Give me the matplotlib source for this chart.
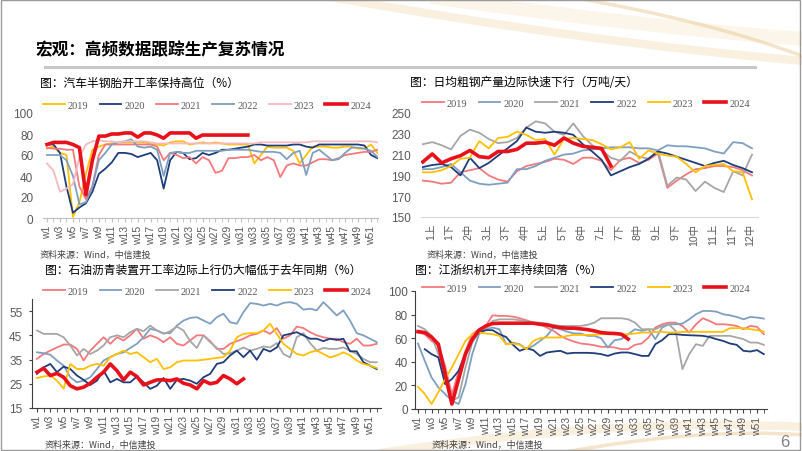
import matplotlib
matplotlib.use('Agg')
import matplotlib.pyplot as plt
import matplotlib.transforms as mtransforms
from matplotlib.path import Path
from matplotlib.patches import PathPatch, Rectangle
from matplotlib.lines import Line2D
import numpy as np

plt.rcParams['font.family'] = ['Noto Sans CJK SC', 'DejaVu Sans']

W, H = 802, 452

# ---------------- data ----------------
years = ['2019', '2020', '2021', '2022', '2023', '2024']
week_labels = ['w%d' % i for i in range(1, 53, 2)]

# chart 1: 汽车半钢胎开工率 (%)
tyre_2019 = [66, 68, 62, 60, 1, 15, 42, 65, 68, 70, 71, 72, 72, 72, 72, 72, 71, 70, 69, 72,
             73, 73, 70, 71, 72, 71, 72, 71, 70, 70, 70, 70, 52, 60, 68, 67, 67, 67, 64, 52,
             60, 68, 68, 68, 67, 67, 68, 68, 66, 66, 70, 62]
tyre_2020 = [70, 70, 62, 30, 5, 10, 14, 25, 42, 47, 53, 62, 62, 61, 58, 60, 62, 55, 28, 55,
             63, 62, 56, 57, 62, 60, 62, 65, 65, 66, 67, 68, 70, 70, 69, 69, 69, 69, 70, 70,
             68, 67, 70, 70, 70, 70, 70, 70, 70, 69, 60, 57]
tyre_2021 = [67, 66, 66, 65, 65, 30, 18, 30, 60, 70, 70, 70, 70, 70, 70, 70, 70, 68, 55, 62,
             60, 57, 58, 52, 58, 55, 43, 45, 57, 57, 58, 58, 60, 55, 58, 55, 39, 50, 52, 50,
             50, 53, 56, 56, 55, 57, 60, 61, 62, 63, 63, 65]
tyre_2022 = [60, 60, 60, 55, 40, 13, 15, 30, 55, 62, 70, 72, 73, 75, 68, 67, 68, 65, 40, 62,
             63, 62, 62, 64, 64, 64, 64, 64, 65, 65, 65, 65, 64, 63, 63, 63, 62, 56, 62, 64,
             41, 62, 65, 60, 55, 56, 62, 67, 67, 66, 64, 58]
tyre_2023 = [52, 45, 25, 28, 32, 58, 70, 73, 74, 73, 73, 72, 73, 73, 73, 73, 72, 71, 71, 71,
             71, 71, 71, 71, 71, 71, 71, 71, 71, 71, 71, 71, 71, 72, 72, 72, 72, 72, 72, 72,
             72, 73, 73, 73, 73, 73, 73, 73, 73, 73, 73, 72]
tyre_2024 = [70, 72, 72, 72, 70, 67, 22, 55, 78, 78, 80, 80, 81, 81, 77, 81, 81, 79, 76, 81,
             81, 81, 81, 76, 79, 79, 79, 79, 79, 79, 79, 79]

# chart 2: 日均粗钢产量 (万吨/天), ten-day periods
steel_labels = ['1上', '1下', '2中', '3上', '3下', '4中', '5上', '5下', '6中',
                '7上', '7下', '8中', '9上', '9下', '10中', '11上', '11下', '12中']
steel_2019 = [185, 184, 182, 183, 193, 195, 197, 190, 186, 184, 194, 199, 201, 203, 206, 205,
              201, 207, 207, 204, 195, 205, 207, 202, 205, 211, 178, 185, 191, 196, 197, 199,
              199, 198, 195, 190]
steel_2020 = [196, 196, 198, 201, 193, 185, 182, 181, 182, 183, 196, 196, 199, 204, 207, 210,
              211, 214, 215, 216, 217, 217, 217, 216, 216, 214, 219, 218, 218, 217, 216, 213,
              211, 222, 221, 216]
steel_2021 = [220, 222, 219, 215, 228, 234, 231, 225, 221, 222, 226, 236, 242, 240, 232, 229,
              240, 228, 219, 214, 207, 204, 213, 208, 206, 214, 180, 188, 186, 175, 184, 178,
              174, 194, 190, 210]
steel_2022 = [198, 200, 201, 198, 190, 207, 197, 202, 209, 216, 223, 236, 232, 231, 232, 231,
              229, 220, 213, 205, 190, 194, 198, 201, 206, 213, 211, 208, 205, 202, 199, 202,
              204, 200, 197, 193]
steel_2023 = [193, 193, 195, 199, 206, 207, 223, 216, 226, 227, 232, 229, 224, 225, 210, 225,
              226, 225, 224, 220, 215, 217, 222, 206, 214, 211, 209, 208, 201, 193, 199, 200,
              201, 194, 193, 167]
steel_2024 = [203, 210.6, 202, 206, 209, 214, 208, 207, 213, 213, 215, 221, 221, 222, 219, 226,
              221, 218, 217, 216, 199]

# chart 3: 石油沥青装置开工率 (%)
asph_2019 = [35.3, 37.3, 38.7, 40, 41.2, 41.2, 39.4, 34.6, 38.7, 41.5, 44.2, 41.5, 44.2, 42.9,
             45, 47.7, 43.6, 45, 44, 42.2, 44.2, 41.5, 40.8, 42.9, 45, 45, 42.6, 39.4, 39.4,
             41.5, 42.6, 43.6, 45, 45.6, 47, 45.6, 48, 43.6, 45, 48.6, 48, 46.3, 45, 44.2,
             43.6, 43.6, 42.2, 41.5, 43.6, 40.8, 40.8, 41.5]
asph_2020 = [38, 37.6, 37, 34.6, 32.5, 27.7, 25.6, 26.3, 27.7, 31.1, 34.6, 36, 37.3, 38, 39.8,
             41.5, 44.2, 47.7, 47, 45.9, 45.9, 49, 51.1, 52.2, 52.5, 51.1, 49.8, 52.5, 53.9,
             50.4, 49.8, 54.6, 58.3, 58, 57.3, 58, 57.3, 58.4, 58.7, 58, 55.6, 56, 55.3, 58.7,
             56, 53.2, 55.3, 51.1, 45.9, 45, 43.6, 42.2]
asph_2021 = [47, 45.6, 45.6, 45.6, 44.2, 40.8, 36.7, 39.4, 37.3, 38.7, 40.8, 44.2, 45, 44.2,
             46.3, 47.7, 46.7, 49, 47, 45.6, 46.7, 48.6, 47, 42.6, 39.8, 45, 42.2, 39.8, 37.3,
             37.6, 38.7, 40, 38.7, 39.4, 40.4, 40, 41.8, 37.3, 35.9, 44.2, 45.9, 41.8, 38.7,
             39.8, 39.4, 39.4, 40, 38.7, 37.3, 35.3, 33.9, 33.9]
asph_2022 = [29.1, 31.8, 33.2, 29.8, 32.1, 31.1, 28.4, 26.6, 24.5, 26.3, 30.4, 25.6, 27, 25.6,
             25.6, 28, 25.6, 22.9, 24.2, 27.4, 22.9, 26.6, 27, 26.3, 25, 27.7, 29.1, 33.2, 33.9,
             36.7, 38.7, 36, 38.7, 34.9, 39.4, 38.3, 40, 45, 45.6, 46.3, 45, 43.6, 43.6, 42.6,
             43.6, 43.1, 43.6, 38.4, 38.4, 33.9, 32.5, 31.1]
asph_2023 = [27.4, 28, 28.4, 26.3, 23, 33.2, 31.1, 31.1, 32.5, 33.2, 32.5, 36, 37.3, 38.7, 37.3,
             38, 36, 33.9, 35.3, 31.1, 31.8, 33.9, 34.6, 34.6, 34.6, 34.9, 35.3, 35.7, 36, 38.7,
             44.2, 45.6, 45.9, 45.9, 47, 49.8, 45.6, 41.5, 39.4, 37.3, 36.7, 38, 38.7, 37.3,
             35.9, 36.7, 38, 36.7, 34.6, 33.2, 32.5, 31.5]
asph_2024 = [29.8, 31.4, 28.4, 29.3, 27.7, 24.2, 22.9, 23.6, 25.2, 27.7, 29.8, 33.2, 30.4, 26.6,
             29.8, 28, 24.5, 25.6, 26.6, 26.6, 26.3, 27, 25.2, 24.5, 22.9, 26.3, 25, 25.6, 28.4,
             27, 25, 27]

# chart 4: 江浙织机开工率 (%)
loom_2019 = [64.8, 63.4, 57.7, 53.5, 36.6, 12, 32.4, 49.3, 63.4, 67.6, 70.4, 79.4, 78.9, 78.9,
             78.3, 76.9, 75.2, 73.2, 71.8, 69, 66.2, 62, 59.2, 57.2, 55.5, 54.9, 54, 52.7, 52.7,
             52.1, 50.7, 50.7, 54.4, 55.5, 60.6, 69, 71.8, 73.2, 73.2, 70.4, 64.8, 71.8, 76.9,
             74.6, 71.8, 71.8, 71.3, 70.4, 67.6, 70.4, 69.6, 63.4]
loom_2020 = [55.5, 40.8, 26.8, 18.3, 12.7, 7, 4.2, 21, 46.5, 63.4, 67.6, 69, 67.6, 54.9, 56.3,
             54.9, 50.7, 53.5, 57.7, 62, 69, 67.6, 65.6, 64, 64, 62, 62, 60, 52.1, 58.3, 59.2,
             63.4, 67.6, 66.2, 67.6, 59.2, 69, 71.8, 71.8, 72.4, 76, 80.3, 83.1, 83.1, 82.5,
             80.3, 79.4, 78, 76, 78, 77.5, 76.6]
loom_2021 = [70.4, 67.6, 62, 46.5, 23.9, 7, 9.9, 35.2, 56.3, 64.8, 67.6, 74.6, 76, 76, 76, 75.2,
             74.6, 73.2, 73.2, 72.4, 71.3, 70.4, 70.4, 70.4, 70.4, 71.3, 73.2, 76.9, 76.9, 76.9,
             76.9, 76, 73.2, 67.6, 67.6, 67.6, 70.4, 71.8, 66.2, 33.8, 46.5, 54.9, 53.5, 62, 62,
             62, 62, 60.6, 59.2, 56.3, 56.3, 54.4]
loom_2022 = [np.nan, 50.7, 46.5, 43.7, 21.1, 25.4, 32.4, 46.5, 59.2, 64.8, 66.8, 66.8, 63.4, 61,
             54.4, 49.3, 51.5, 49.9, 45, 47.9, 48.7, 49.3, 47, 47.6, 47.6, 47.6, 47.3, 46.5, 45,
             47, 47.9, 47.9, 46.5, 45, 45, 54.9, 58.3, 63.4, 63.4, 62.8, 62.5, 62.3, 62, 61,
             59.2, 57.7, 55.5, 54.4, 49.3, 48.7, 49.9, 46.5]
loom_2023 = [18.9, 12.7, 4.2, 14.1, 25.4, 35.2, 46.5, 57.7, 63.4, 64.8, 64, 63.4, 62, 54.9, 55.5,
             54.4, 50.7, 57.7, 60, 60.6, 60.6, 60.6, 62, 62.8, 62.8, 62.8, 62.8, 63.4, 63.4, 63.4,
             63.4, 63.4, 64, 64.8, 64.8, 65.4, 65.4, 64.8, 64.8, 65.4, 65.4, 65.4, 65.4, 65.4,
             65.4, 65.4, 68.5, 68.5, 68.5, 67.6, 66.8, 65.6]
loom_2024 = [65.6, 64.8, 61, 55, 29.6, 4.2, 25.4, 46.5, 59, 66.8, 70.4, 72.4, 72.7, 72.7, 72.7,
             72.7, 72.7, 72.7, 71.8, 71.3, 69.9, 69, 68.5, 68.5, 67.9, 67.3, 66.2, 64.8, 64.2, 64,
             63.4, 59.2]

# ---------------- colours ----------------
GOLD, NAVY, SALMON = '#FFC000', '#1F3D7A', '#F4787C'
STEEL, GREY, PINK, RED = '#7F9FC0', '#A6A6A6', '#F7B9C1', '#E8101A'
TXT = '#595959'

colors_tyre = [GOLD, NAVY, SALMON, STEEL, PINK, RED]
colors_other = [SALMON, STEEL, GREY, NAVY, GOLD, RED]
widths = [1.3, 1.3, 1.3, 1.3, 1.3, 2.6]

fig = plt.figure(figsize=(W / 100, H / 100), dpi=100)
fig.patch.set_facecolor('white')


def add_ax(l, t, r, b):
    return fig.add_axes([l / W, 1 - b / H, (r - l) / W, (b - t) / H])


def ftext(x, y, s, **kw):
    return fig.text(x / W, 1 - y / H, s, **kw)


# background decoration
bg = fig.add_axes([0, 0, 1, 1], zorder=-5)
bg.set_xlim(0, W)
bg.set_ylim(H, 0)
bg.axis('off')


def swoosh(p0, p1, p2, color, lw, alpha):
    path = Path([p0, p1, p2], [Path.MOVETO, Path.CURVE3, Path.CURVE3])
    bg.add_patch(PathPatch(path, fc='none', ec=color, lw=lw, alpha=alpha))


swoosh((330, -2), (600, 45), (805, 62), '#F3DFBA', 6, 0.45)
swoosh((430, -2), (660, 30), (805, 40), '#F7EAD2', 10, 0.45)
swoosh((570, -2), (710, 22), (805, 58), '#EACB94', 2.5, 0.5)
swoosh((380, 454), (620, 418), (805, 428), '#F3DFBA', 6, 0.45)
swoosh((560, 454), (700, 428), (805, 436), '#EACB94', 2.5, 0.5)
bg.add_patch(Rectangle((0.5, 0.5), 799, 450, fill=False, ec='#9A9A9A', lw=1))

# title
ftext(35, 50, '宏观：高频数据跟踪生产复苏情况', fontsize=12, fontweight='bold',
      color='black', va='center')
bg.plot([45, 755], [68, 68], color='#C8C8C8', lw=2.2)
ftext(780, 443, '6', fontsize=12, color='#808080', va='center',
      family='Liberation Sans')


def draw_lines(ax, series, colors, x0=1):
    for vals, col, lw in zip(series, colors, widths):
        ax.plot(np.arange(x0, x0 + len(vals)), vals, color=col, lw=lw,
                solid_joinstyle='round')


def legend(ax, colors, x, y):
    handles = [Line2D([], [], color=c, lw=lw) for c, lw in zip(colors, widths)]
    ax.legend(handles, years, loc='center left', bbox_to_anchor=(x / W, 1 - y / H),
              bbox_transform=fig.transFigure, ncol=6, frameon=False,
              prop={'family': 'Liberation Serif', 'size': 7.5}, labelcolor=TXT,
              handlelength=2.1, handletextpad=0.3, columnspacing=1.05,
              borderpad=0, borderaxespad=0)


def style_ticks(ax):
    for lab in ax.get_xticklabels() + ax.get_yticklabels():
        lab.set_fontfamily(['Liberation Sans', 'Noto Sans CJK SC'])


def source(x, y):
    ftext(x, y, '资料来源：Wind，中信建投', fontsize=6.5, color='#404040',
          va='center', style='italic')


# ---------- chart 1 ----------
ax1 = add_ax(43, 114, 378, 219)
draw_lines(ax1, [tyre_2019, tyre_2020, tyre_2021, tyre_2022, tyre_2023, tyre_2024],
           colors_tyre)
ax1.set_xlim(0.38, 52.08)
ax1.set_ylim(0, 100)
ax1.set_yticks(range(0, 101, 20))
ax1.set_xticks(range(1, 53, 2))
ax1.set_xticklabels(week_labels)
ax1.set_xticks(range(1, 53), minor=True)
for s in ['top', 'right', 'left']:
    ax1.spines[s].set_visible(False)
ax1.spines['bottom'].set_color('#BFBFBF')
ax1.tick_params(axis='y', length=0, pad=7, labelsize=8.5, labelcolor=TXT)
ax1.tick_params(axis='x', which='both', length=3, color='#BFBFBF', labelsize=7.5,
                labelcolor=TXT, rotation=90, pad=2)
style_ticks(ax1)
legend(ax1, colors_tyre, 43, 106)
ftext(40, 83, '图：汽车半钢胎开工率保持高位（%）', fontsize=8.5, color='black', va='center')
source(40, 255)

# ---------- chart 2 ----------
ax2 = add_ax(421, 114, 758, 218)
draw_lines(ax2, [steel_2019, steel_2020, steel_2021, steel_2022, steel_2023, steel_2024],
           colors_other, x0=0)
ax2.set_xlim(-0.2, 35.64)
ax2.set_ylim(150, 250)
ax2.set_yticks(range(150, 251, 20))
ax2.set_xticks(range(0, 36, 2))
ax2.set_xticklabels(steel_labels)
for s in ['top', 'right', 'left']:
    ax2.spines[s].set_visible(False)
ax2.spines['bottom'].set_color('#D9D9D9')
ax2.tick_params(axis='y', length=0, pad=7, labelsize=8.5, labelcolor=TXT)
ax2.tick_params(axis='x', length=0, labelsize=7.5, labelcolor=TXT, rotation=90, pad=4)
shift = mtransforms.ScaledTranslation(8 / 100, 0, fig.dpi_scale_trans)
for lab in ax2.get_xticklabels():
    lab.set_transform(lab.get_transform() + shift)
style_ticks(ax2)
legend(ax2, colors_other, 422, 104)
ftext(410, 83, '图：日均粗钢产量边际快速下行（万吨/天）', fontsize=8.5, color='black',
      va='center')
source(427, 255)

# ---------- chart 3 ----------
ax3 = add_ax(32, 300, 381, 409)
draw_lines(ax3, [asph_2019, asph_2020, asph_2021, asph_2022, asph_2023, asph_2024],
           colors_other)
ax3.set_xlim(0.25, 52.65)
ax3.set_ylim(15, 60)
ax3.set_yticks(range(15, 56, 10))
ax3.set_xticks(range(1, 53, 2))
ax3.set_xticklabels(week_labels)
ax3.set_xticks(range(1, 53), minor=True)
for s in ['top', 'right']:
    ax3.spines[s].set_visible(False)
for s in ['left', 'bottom']:
    ax3.spines[s].set_color('#404040')
    ax3.spines[s].set_linewidth(0.8)
ax3.tick_params(axis='y', length=2, color='#404040', pad=5, labelsize=8.5, labelcolor=TXT)
ax3.tick_params(axis='x', which='both', length=3, color='#404040', labelsize=7.5,
                labelcolor=TXT, rotation=90, pad=2)
style_ticks(ax3)
legend(ax3, colors_other, 43, 292)
ftext(45, 270, '图：石油沥青装置开工率边际上行仍大幅低于去年同期（%）', fontsize=8.5,
      color='black', va='center')
source(45, 445)

# ---------- chart 4 ----------
ax4 = add_ax(415, 292, 767, 410)
draw_lines(ax4, [loom_2019, loom_2020, loom_2021, loom_2022, loom_2023, loom_2024],
           colors_other)
ax4.set_xlim(0.56, 52.47)
ax4.set_ylim(0, 100)
ax4.set_yticks(range(0, 101, 20))
ax4.set_xticks(range(1, 53, 2))
ax4.set_xticklabels(week_labels)
ax4.set_xticks(range(1, 53), minor=True)
for s in ['top', 'right']:
    ax4.spines[s].set_visible(False)
for s in ['left', 'bottom']:
    ax4.spines[s].set_color('#404040')
    ax4.spines[s].set_linewidth(0.8)
ax4.tick_params(axis='y', length=3, color='#404040', pad=2, labelsize=8.5, labelcolor=TXT)
ax4.tick_params(axis='x', which='both', length=3, color='#404040', labelsize=7.5,
                labelcolor=TXT, rotation=90, pad=2)
style_ticks(ax4)
legend(ax4, colors_other, 422, 289)
ftext(415, 270, '图：江浙织机开工率持续回落（%）', fontsize=8.5, color='black', va='center')
source(432, 445)

fig.savefig('out.png', dpi=100, facecolor='white')
